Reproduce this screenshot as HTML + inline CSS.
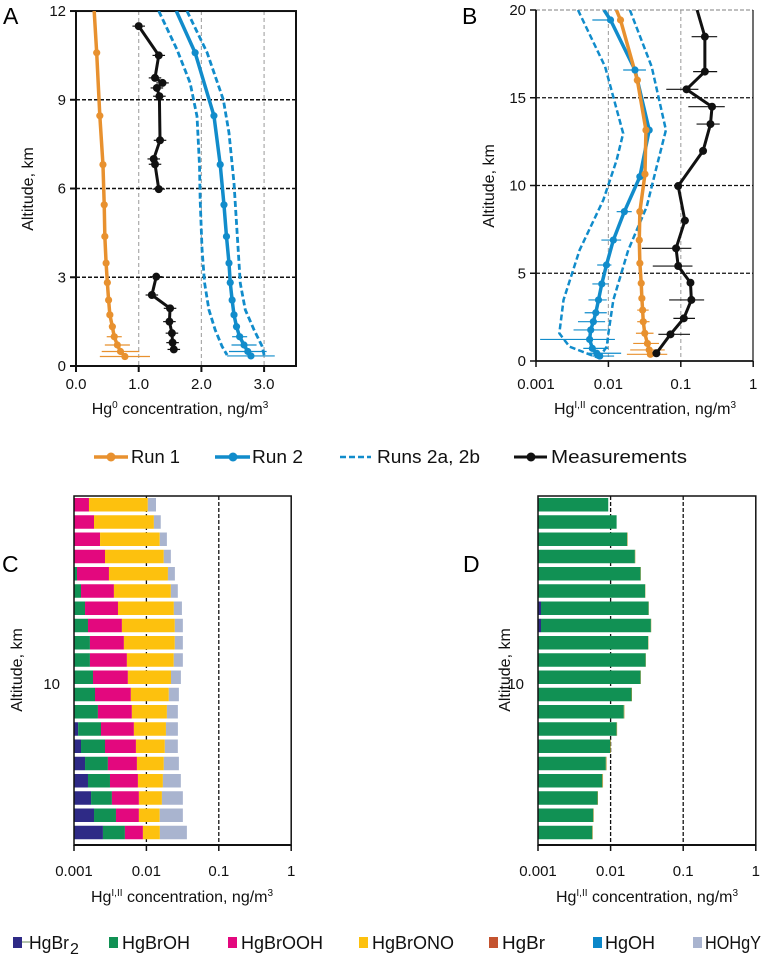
<!DOCTYPE html>
<html><head><meta charset="utf-8"><style>
html,body{margin:0;padding:0;background:#fff;}
svg{display:block;font-family:"Liberation Sans",sans-serif;}
</style></head><body>
<svg id="fig" width="762" height="961" viewBox="0 0 762 961" xmlns="http://www.w3.org/2000/svg">
<g font-size="23" fill="#000">
<text x="3" y="24">A</text>
<text x="462" y="24">B</text>
<text x="2" y="572">C</text>
<text x="463" y="572">D</text>
</g>
<g font-size="16" fill="#111" text-anchor="middle">
<text transform="translate(33,189) rotate(-90)">Altitude, km</text>
<text transform="translate(494,186) rotate(-90)">Altitude, km</text>
<text transform="translate(22,670) rotate(-90)">Altitude, km</text>
<text transform="translate(510,670) rotate(-90)">Altitude, km</text>
<text x="180" y="414">Hg<tspan dy="-6" font-size="10">0</tspan><tspan dy="6"> concentration, ng/m</tspan><tspan dy="-6" font-size="10">3</tspan></text>
<text x="645" y="414">Hg<tspan dy="-6" font-size="10">I,II</tspan><tspan dy="6"> concentration, ng/m</tspan><tspan dy="-6" font-size="10">3</tspan></text>
<text x="182" y="902">Hg<tspan dy="-6" font-size="10">I,II</tspan><tspan dy="6"> concentration, ng/m</tspan><tspan dy="-6" font-size="10">3</tspan></text>
<text x="647" y="902">Hg<tspan dy="-6" font-size="10">I,II</tspan><tspan dy="6"> concentration, ng/m</tspan><tspan dy="-6" font-size="10">3</tspan></text>
</g>
<g font-size="18" fill="#111">
<g><line x1="94" y1="457" x2="128" y2="457" stroke="#e8912f" stroke-width="3.5"/><circle cx="111" cy="457" r="4.5" fill="#e8912f"/><text x="131" y="463" textLength="49" lengthAdjust="spacingAndGlyphs">Run 1</text></g>
<g><line x1="215" y1="457" x2="250" y2="457" stroke="#118ccb" stroke-width="3.5"/><circle cx="233" cy="457" r="4.5" fill="#118ccb"/><text x="252" y="463" textLength="51" lengthAdjust="spacingAndGlyphs">Run 2</text></g>
<g><line x1="340" y1="457" x2="371" y2="457" stroke="#118ccb" stroke-width="2.5" stroke-dasharray="6,3"/><text x="377" y="463" textLength="103" lengthAdjust="spacingAndGlyphs">Runs 2a, 2b</text></g>
<g><line x1="514" y1="457" x2="547" y2="457" stroke="#111" stroke-width="3"/><circle cx="531" cy="457" r="4.5" fill="#111"/><text x="551" y="463" textLength="136" lengthAdjust="spacingAndGlyphs">Measurements</text></g>
</g>
<g font-size="18" fill="#111">
<g><rect x="13" y="937" width="9" height="11" fill="#2e2a86"/><line x1="22" y1="942" x2="30" y2="942" stroke="#6a8a5a" stroke-width="1"/><text x="29" y="949" textLength="40" lengthAdjust="spacingAndGlyphs">HgBr</text><text x="70" y="954" font-size="16">2</text></g>
<g><rect x="109" y="937" width="9" height="11" fill="#119154"/><text x="122" y="949" textLength="68" lengthAdjust="spacingAndGlyphs">HgBrOH</text></g>
<g><rect x="228" y="937" width="9" height="11" fill="#e3087e"/><text x="241" y="949" textLength="82" lengthAdjust="spacingAndGlyphs">HgBrOOH</text></g>
<g><rect x="359" y="937" width="9" height="11" fill="#fdc10e"/><text x="372" y="949" textLength="82" lengthAdjust="spacingAndGlyphs">HgBrONO</text></g>
<g><rect x="489" y="937" width="9" height="11" fill="#c4532f"/><text x="502" y="949" textLength="43" lengthAdjust="spacingAndGlyphs">HgBr</text></g>
<g><rect x="593" y="937" width="9" height="11" fill="#0b87c9"/><text x="605" y="949" textLength="50" lengthAdjust="spacingAndGlyphs">HgOH</text></g>
<g><rect x="693" y="937" width="9" height="11" fill="#a9b4cf"/><text x="705" y="949" textLength="56" lengthAdjust="spacingAndGlyphs">HOHgY</text></g>
</g>
</svg>
<script>
// ---------- Panel A data (Hg0, ng/m3 vs altitude km) ----------
const aRun1Alt = [12.0,10.59,8.46,6.81,5.45,4.38,3.48,2.82,2.23,1.73,1.33,0.99,0.71,0.49,0.32];
const aRun1Val = [0.29,0.33,0.38,0.43,0.45,0.46,0.48,0.50,0.52,0.54,0.58,0.61,0.66,0.71,0.78];
const aRun1Err = [0,0,0,0,0,0,0,0,0,0,0.05,0.12,0.2,0.3,0.4];
const aRun2Alt = [12.0,10.59,8.46,6.81,5.45,4.38,3.48,2.82,2.23,1.73,1.33,0.99,0.71,0.49,0.34];
const aRun2Val = [1.60,1.90,2.20,2.30,2.36,2.40,2.44,2.46,2.49,2.52,2.56,2.61,2.68,2.74,2.79];
const aRun2Err = [0,0,0,0,0,0,0,0,0,0,0.05,0.12,0.2,0.3,0.38];
const aRun2aAlt = [12,10.7,9.57,8.44,6.77,5.64,3.95,2.82,1.9,1.22,0.66,0.37];
const aRun2aVal = [1.32,1.61,1.82,1.93,1.97,1.98,2.01,2.05,2.12,2.22,2.33,2.41];
const aRun2bAlt = [12,10.6,9.0,7.88,6.18,4.49,2.8,1.9,1.22,0.66,0.37];
const aRun2bVal = [1.77,2.09,2.35,2.44,2.52,2.57,2.62,2.70,2.84,2.97,3.0];
const aMeasSeg1Alt = [11.49,10.5,9.74,9.57,9.4,9.12,7.63,7.0,6.82,5.98];
const aMeasSeg1Val = [1.0,1.32,1.26,1.38,1.29,1.33,1.34,1.24,1.26,1.32];
const aMeasSeg2Alt = [3.02,2.4,1.95,1.5,1.11,0.79,0.56];
const aMeasSeg2Val = [1.28,1.21,1.50,1.49,1.53,1.54,1.56];
const aMeasErr = 0.1;
const aXTicks = ["0.0","1.0","2.0","3.0"];
const aYTicks = [0,3,6,9,12];

// ---------- Panel B data (HgI,II, ng/m3 log scale) ----------
const bRun1Alt = [20,19.43,16.0,13.16,10.65,8.51,6.89,5.57,4.43,3.57,2.9,2.24,1.58,1.0,0.63,0.38];
const bRun1Val = [0.0129,0.0147,0.0251,0.033,0.032,0.0272,0.0267,0.0272,0.0284,0.029,0.0297,0.0303,0.0318,0.0346,0.0366,0.038];
const bRun1Lo  = [null,null,null,null,null,null,null,null,null,null,0.025,0.025,0.024,0.022,0.02,0.018];
const bRun1Hi  = [null,null,null,null,null,null,null,null,null,null,0.036,0.037,0.042,0.05,0.06,0.065];
const bRun2Alt = [20,19.43,16.58,13.16,10.5,8.51,6.89,5.47,4.39,3.48,2.75,2.24,1.77,1.23,0.72,0.44,0.28];
const bRun2Val = [0.0087,0.0107,0.0233,0.0366,0.0272,0.0166,0.0117,0.0094,0.0081,0.0073,0.0067,0.0062,0.0057,0.0055,0.006,0.0069,0.0076];
const bRun2Lo  = [null,0.006,0.016,null,null,0.013,0.008,0.007,0.006,0.0053,0.0047,0.0038,0.0033,0.00114,0.0045,0.005,0.006];
const bRun2Hi  = [null,null,0.033,null,null,0.021,0.015,0.011,0.01,0.0095,0.0095,0.009,0.0095,0.0123,0.01,0.015,0.012];
const bRun2aAlt = [20,16.77,12.97,11.45,9.17,6.32,3.48,1.58,0.82,0.44,0.15];
const bRun2aVal = [0.0038,0.009,0.016,0.013,0.0085,0.004,0.0024,0.0021,0.0029,0.005,0.0076];
const bRun2bAlt = [20,16.77,13.16,11.07,8.79,6.32,3.48,1.58,0.82,0.25];
const bRun2bVal = [0.0198,0.0396,0.0623,0.0464,0.0338,0.0188,0.0117,0.01,0.0095,0.0076];
const bMeasAlt = [20,18.48,16.49,15.48,14.49,13.5,11.97,9.97,8.0,6.42,5.41,4.46,3.48,2.43,1.52,0.44];
const bMeasVal = [0.168,0.215,0.215,0.12,0.27,0.257,0.203,0.092,0.114,0.086,0.092,0.136,0.14,0.11,0.072,0.046];
const bMeasLo  = [null,0.141,0.148,0.063,0.127,0.165,null,null,null,0.029,0.041,null,0.069,0.079,0.049,null];
const bMeasHi  = [null,0.318,0.318,0.175,0.405,0.345,null,null,null,0.14,0.145,null,0.21,0.157,0.134,null];
const bXTicks = ["0.001","0.01","0.1","1"];
const bYTicks = [0,5,10,15,20];

// ---------- Panel C data (species, ng/m3; rows top to bottom) ----------
const cHgBr2  = [0,0,0,0,0,0,0,0,0,0,0,0,0,1.14e-3,1.25e-3,1.42e-3,1.56e-3,1.72e-3,1.89e-3,2.51e-3];
const cHgBrOH = [0,0,0,0,1.1e-3,1.25e-3,1.42e-3,1.56e-3,1.66e-3,1.66e-3,1.83e-3,1.95e-3,2.14e-3,1.22e-3,1.43e-3,1.52e-3,1.58e-3,1.62e-3,1.91e-3,2.54e-3];
const cHgBrOOH= [1.61e-3,1.89e-3,2.29e-3,2.68e-3,1.94e-3,2.31e-3,2.63e-3,3.03e-3,3.23e-3,3.72e-3,3.72e-3,4.15e-3,4.16e-3,4.36e-3,4.49e-3,4.46e-3,4.5e-3,4.54e-3,4.08e-3,3.9e-3];
const cHgBrONO= [8.86e-3,10.8e-3,13.0e-3,14.7e-3,16.8e-3,18.2e-3,19.9e-3,20.1e-3,19.8e-3,18.5e-3,16.3e-3,14.3e-3,12.9e-3,11.9e-3,10.8e-3,10.0e-3,9.26e-3,8.5e-3,7.4e-3,6.4e-3];
const cHOHgY  = [3.1e-3,3.1e-3,3.9e-3,4.4e-3,4.9e-3,5.4e-3,7.0e-3,7.2e-3,7.2e-3,8.0e-3,8.1e-3,7.7e-3,8.0e-3,8.6e-3,9.2e-3,10.7e-3,13.0e-3,15.5e-3,16.6e-3,20.9e-3];
// ---------- Panel D data ----------
const dHgBr2  = [0,0,0,0,0,0,1.1e-3,1.1e-3,0,0,0,0,0,0,0,0,0,0,0,0];
const dHgBrOH = [9.28e-3,12.1e-3,16.9e-3,21.6e-3,25.8e-3,29.9e-3,32.2e-3,34.8e-3,32.9e-3,30.4e-3,25.8e-3,19.4e-3,15.2e-3,12.1e-3,9.9e-3,8.6e-3,7.67e-3,6.6e-3,5.77e-3,5.59e-3];
const dHgBrONO= [0,0,0.3e-3,0.3e-3,0.3e-3,0.3e-3,0.3e-3,0.4e-3,0.4e-3,0.3e-3,0.3e-3,0.3e-3,0.3e-3,0.2e-3,0.2e-3,0.2e-3,0.2e-3,0.1e-3,0.1e-3,0.1e-3];
const cdXTicks = ["0.001","0.01","0.1","1"];

const COL = {orange:"#e8912f", blue:"#118ccb", black:"#111", hgbr2:"#2e2a86", hgbroh:"#119154", hgbrooh:"#e3087e", hgbrono:"#fdc10e", hohgy:"#a9b4cf"};
const svg = document.getElementById('fig');
const NS = "http://www.w3.org/2000/svg";
function mk(tag, attrs, parent){
  const e = document.createElementNS(NS, tag);
  for (const k in attrs) e.setAttribute(k, attrs[k]);
  (parent||svg).appendChild(e);
  return e;
}
const xA = v => 76 + v*62.7;
const yA = a => 366 - a*29.58;
const xB = v => 536 + (Math.log10(v)+3)*72.4;
const yB = a => 361 - a*17.55;
const xC = v => 74 + (Math.log10(v)+3)*72.4;
const xD = v => 538 + (Math.log10(v)+3)*72.6;
const rowY = i => 498 + i*17.25;

// ===== Panel A =====
const gA = mk('g', {});


[1,2,3].forEach(v=>{
  const l = mk('line',{x1:xA(v),x2:xA(v),y1:yA(12),y2:yA(0),stroke:"#aaa","stroke-width":1.2,"stroke-dasharray":"4,3"},gA);
  
  
});
[3,6,9].forEach(a=>{
  const l = mk('line',{x1:76,x2:296,y1:yA(a),y2:yA(a),stroke:"#111","stroke-width":1.5,"stroke-dasharray":"4,2"},gA);
  
  
});
const frA = mk('rect',{x:76,y:yA(12),width:220,height:yA(0)-yA(12),fill:"none",stroke:"#111","stroke-width":2},gA);


aXTicks.forEach((t,i)=>{
  const tk = mk('line',{x1:xA(i),x2:xA(i),y1:366,y2:372,stroke:"#111","stroke-width":2},gA);
  
  
  const tx = mk('text',{x:xA(i),y:389,"text-anchor":"middle","font-size":15,fill:"#111"},gA);
  tx.textContent = t;
  
  
});
aYTicks.forEach(a=>{
  const tk = mk('line',{x1:70,x2:76,y1:yA(a),y2:yA(a),stroke:"#111","stroke-width":2},gA);
  
  
  const tx = mk('text',{x:66,y:yA(a)+5,"text-anchor":"end","font-size":15,fill:"#111"},gA);
  tx.textContent = a;
  
  
});
function poly(g, xs, ys, fx, fy, color, w, dash){
  const pts = xs.map((v,i)=>fx(v)+","+fy(ys[i])).join(" ");
  const p = mk('polyline',{points:pts,fill:"none",stroke:color,"stroke-width":w,"stroke-linejoin":"round"},g);
  if (dash) p.setAttribute('stroke-dasharray', dash);
  return p;
}
function errH(g, x1, x2, y, color){
  const e = mk('line',{x1:x1,x2:x2,y1:y,y2:y,stroke:color,"stroke-width":1.2},g);
  
  
  return e;
}
const defs = mk('defs',{});
const cpA = mk('clipPath',{id:"clipA"},defs);
mk('rect',{x:76,y:yA(12),width:220,height:yA(0)-yA(12)},cpA);
const cpB = mk('clipPath',{id:"clipB"},defs);
mk('rect',{x:536,y:yB(20),width:217,height:yB(0)-yB(20)},cpB);
const sA = mk('g',{"clip-path":"url(#clipA)"},gA);


aRun1Val.forEach((v,i)=>{ if(aRun1Err[i]>0) errH(sA, xA(v-aRun1Err[i]), xA(v+aRun1Err[i]), yA(aRun1Alt[i]), COL.orange); });
aRun2Val.forEach((v,i)=>{ if(aRun2Err[i]>0) errH(sA, xA(v-aRun2Err[i]), xA(v+aRun2Err[i]), yA(aRun2Alt[i]), COL.blue); });
let p;
p = poly(sA, aRun2aVal, aRun2aAlt, xA, yA, COL.blue, 2.8, "6,3");


p = poly(sA, aRun2bVal, aRun2bAlt, xA, yA, COL.blue, 2.8, "6,3");


p = poly(sA, aRun1Val, aRun1Alt, xA, yA, COL.orange, 3.5);


p = poly(sA, aRun2Val, aRun2Alt, xA, yA, COL.blue, 3.5);


aRun1Val.forEach((v,i)=>{ if(i>0){
  const c = mk('circle',{cx:xA(v),cy:yA(aRun1Alt[i]),r:3.6,fill:COL.orange},sA);
  
  
}});
aRun2Val.forEach((v,i)=>{ if(i>0){
  const c = mk('circle',{cx:xA(v),cy:yA(aRun2Alt[i]),r:3.6,fill:COL.blue},sA);
  
  
}});
[[aMeasSeg1Val,aMeasSeg1Alt],[aMeasSeg2Val,aMeasSeg2Alt]].forEach(([vals,alts])=>{
  vals.forEach((v,i)=>errH(sA, xA(v-aMeasErr), xA(v+aMeasErr), yA(alts[i]), COL.black));
  const l = poly(sA, vals, alts, xA, yA, COL.black, 3);
  
  
  vals.forEach((v,i)=>{
    const c = mk('circle',{cx:xA(v),cy:yA(alts[i]),r:4,fill:COL.black},sA);
    
    
  });
});

// ===== Panel B =====
const gB = mk('g', {});


[0.01,0.1].forEach(v=>{
  const l = mk('line',{x1:xB(v),x2:xB(v),y1:yB(20),y2:yB(0),stroke:"#aaa","stroke-width":1.2,"stroke-dasharray":"4,3"},gB);
  
  
});
[5,10,15].forEach(a=>{
  const l = mk('line',{x1:536,x2:753,y1:yB(a),y2:yB(a),stroke:"#111","stroke-width":1.2,"stroke-dasharray":"4,2"},gB);
  
  
});
let fl;
fl = mk('line',{x1:536,x2:753,y1:yB(20),y2:yB(20),stroke:"#999","stroke-width":1.2,"stroke-dasharray":"4,2"},gB);


fl = mk('line',{x1:753,x2:753,y1:yB(20),y2:yB(0),stroke:"#111","stroke-width":1.2},gB);


fl = mk('line',{x1:536,x2:536,y1:yB(20),y2:yB(0),stroke:"#111","stroke-width":1.8},gB);


fl = mk('line',{x1:536,x2:753,y1:yB(0),y2:yB(0),stroke:"#111","stroke-width":1.8},gB);


bXTicks.forEach((t,i)=>{
  const v = Math.pow(10,i-3);
  const tk = mk('line',{x1:xB(v),x2:xB(v),y1:361,y2:367,stroke:"#111","stroke-width":1.5},gB);
  
  
  const tx = mk('text',{x:xB(v),y:389,"text-anchor":"middle","font-size":15,fill:"#111"},gB);
  tx.textContent = t;
  
  
});
bYTicks.forEach(a=>{
  const tk = mk('line',{x1:530,x2:536,y1:yB(a),y2:yB(a),stroke:"#111","stroke-width":1.5},gB);
  
  
  const tx = mk('text',{x:526,y:yB(a)+5,"text-anchor":"end","font-size":15,fill:"#111"},gB);
  tx.textContent = a;
  
  
});
const sB = mk('g',{"clip-path":"url(#clipB)"},gB);


bRun1Val.forEach((v,i)=>{ if(bRun1Lo[i]) errH(sB, xB(bRun1Lo[i]), xB(bRun1Hi[i]), yB(bRun1Alt[i]), COL.orange); });
bRun2Val.forEach((v,i)=>{ if(bRun2Lo[i]) errH(sB, xB(bRun2Lo[i]), xB(bRun2Hi[i]||v), yB(bRun2Alt[i]), COL.blue); });
bMeasVal.forEach((v,i)=>{ if(bMeasLo[i]) errH(sB, xB(bMeasLo[i]), xB(bMeasHi[i]), yB(bMeasAlt[i]), COL.black); });
p = poly(sB, bRun2aVal, bRun2aAlt, xB, yB, COL.blue, 2.5, "6,3");


p = poly(sB, bRun2bVal, bRun2bAlt, xB, yB, COL.blue, 2.5, "6,3");


p = poly(sB, bRun2Val, bRun2Alt, xB, yB, COL.blue, 3.5);


p = poly(sB, bRun1Val, bRun1Alt, xB, yB, COL.orange, 3.5);


p = poly(sB, bMeasVal, bMeasAlt, xB, yB, COL.black, 3);


bRun2Val.forEach((v,i)=>{ if(i>0){
  const c = mk('circle',{cx:xB(v),cy:yB(bRun2Alt[i]),r:3.6,fill:COL.blue},sB);
  
  
}});
bRun1Val.forEach((v,i)=>{ if(i>0){
  const c = mk('circle',{cx:xB(v),cy:yB(bRun1Alt[i]),r:3.6,fill:COL.orange},sB);
  
  
}});
bMeasVal.forEach((v,i)=>{ if(i>0){
  const c = mk('circle',{cx:xB(v),cy:yB(bMeasAlt[i]),r:4,fill:COL.black},sB);
  
  
}});

// ===== Panels C and D =====
function stackedPanel(name, fx, left, series, colors, labels){
  const g = mk('g',{});
  
  
  [0.01,0.1].forEach(v=>{
    const l = mk('line',{x1:fx(v),x2:fx(v),y1:496,y2:845,stroke:"#111","stroke-width":1.3,"stroke-dasharray":"4,2"},g);
    
    
  });
  const n = series[0].length;
  for (let i=0;i<n;i++){
    let cum = 0;
    series.forEach((s,k)=>{
      const v = s[i];
      if (v<=0) return;
      const x0 = cum>0 ? fx(Math.max(cum,0.001)) : left;
      cum += v;
      const x1 = fx(cum);
      const r = mk('rect',{x:x0,y:rowY(i),width:Math.max(0,x1-x0),height:13.5,fill:colors[k]},g);
      
      
    });
  }
  const fr = mk('path',{d:`M${left},845 V496 H${fx(1)} V845 Z`,fill:"none",stroke:"#111","stroke-width":1.5},g);
  
  
  const ax = mk('line',{x1:left,x2:fx(1),y1:845,y2:845,stroke:"#111","stroke-width":2},g);
  
  
  cdXTicks.forEach((t,i)=>{
    const v = Math.pow(10,i-3);
    const tk = mk('line',{x1:fx(v),x2:fx(v),y1:845,y2:851,stroke:"#111","stroke-width":1.5},g);
    
    
    const tx = mk('text',{x:fx(v),y:876,"text-anchor":"middle","font-size":15,fill:"#111"},g);
    tx.textContent = t;
    
    
  });
  const yl = mk('text',{x:left-14,y:689,"text-anchor":"end","font-size":15,fill:"#111"},g);
  yl.textContent = "10";
  
  
}
stackedPanel('panel-c', xC, 74, [cHgBr2,cHgBrOH,cHgBrOOH,cHgBrONO,cHOHgY], [COL.hgbr2,COL.hgbroh,COL.hgbrooh,COL.hgbrono,COL.hohgy], ['hgbr2','hgbroh','hgbrooh','hgbrono','hohgy']);
stackedPanel('panel-d', xD, 538, [dHgBr2,dHgBrOH,dHgBrONO], [COL.hgbr2,COL.hgbroh,"#b89a3a"], ['hgbr2','hgbroh','hgbrono']);
</script>
</body></html>
